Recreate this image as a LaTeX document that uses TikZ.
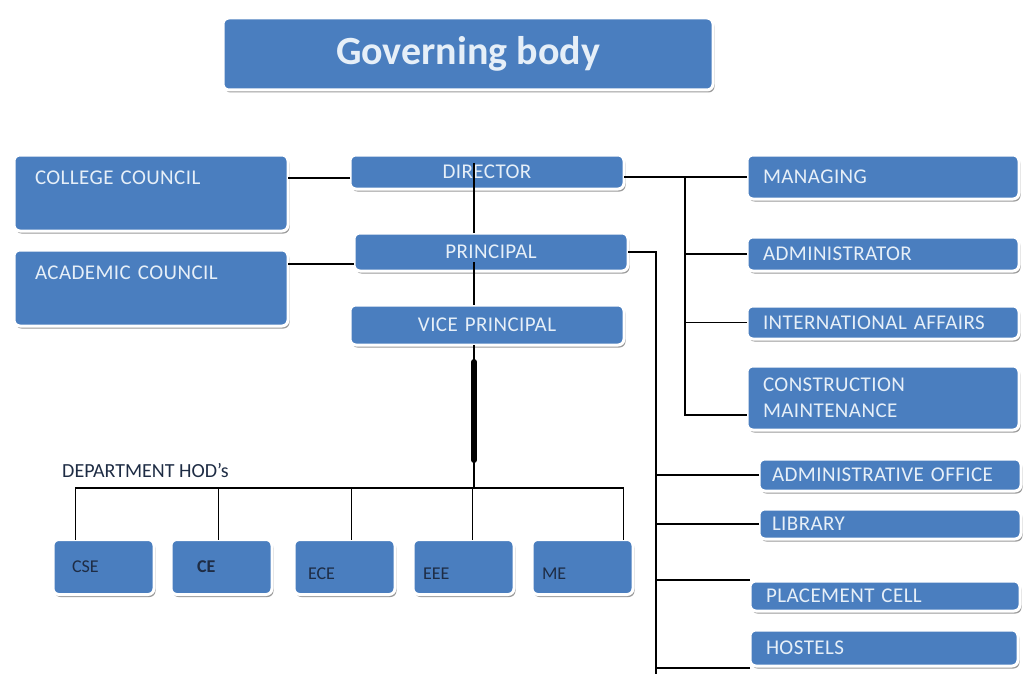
\documentclass[tikz,border=0pt]{standalone}
\usepackage{fontspec}
\setmainfont{Carlito}
\newfontfamily\unitfont[LetterSpace=2]{Carlito}
\usetikzlibrary{positioning,shadows}
\definecolor{boxblue}{HTML}{4A7EBF}
\definecolor{boxink}{HTML}{E6EFF8}
\definecolor{deptink}{HTML}{1E2C44}
\definecolor{rimshade}{HTML}{9A9A9A}

\tikzset{
  unit/.style={draw=white, line width=3pt, fill=boxblue, rounded corners=6pt,
    drop shadow={shadow xshift=1.5pt, shadow yshift=-2.5pt, fill=rimshade, opacity=1},
    text=boxink, font=\unitfont\fontsize{21}{26}\selectfont, anchor=north west,
    inner sep=0pt, outer sep=0pt},
  wide/.style={unit, align=left, inner xsep=16pt, text width=240pt, minimum height=#1},
  mid/.style={unit, align=center, text width=274pt, minimum height=#1},
  council/.style={unit, align=left, inner xsep=21pt, text width=232pt,
    text height=29pt, text depth=47pt},
  dept/.style={unit, text=deptink, font=\normalfont\fontsize{18}{22}\selectfont,
    align=left, inner xsep=14pt, text width=73pt, text height=33pt, text depth=22pt,
    anchor=west},
  low/.style={text height=40pt, text depth=15pt},
  link/.style={draw=black, line width=1.6pt},
  spine/.style={draw=black, line width=6pt, line cap=round}
}

\begin{document}
\begin{tikzpicture}[x=1pt, y=-1pt]
  \useasboundingbox (0,0) rectangle (1024,674);

  % top
  \node [unit, font=\normalfont\bfseries\fontsize{40}{44}\selectfont,
    minimum width=490pt, minimum height=72pt] (gov) at (223,18) {Governing body};

  % councils and line of command
  \node [council] (college) at (14,155) {COLLEGE COUNCIL};
  \node [council] (academic) at (14,250) {ACADEMIC COUNCIL};
  \node [mid=34pt] (director) at (350,155) {DIRECTOR};
  \node [mid=38pt] (principal) at (354,233) {PRINCIPAL};
  \node [mid=40pt] (vice) at (350,305) {VICE PRINCIPAL};

  % under the director
  \node [wide=44pt] (managing) at (747,155) {MANAGING};
  \node [wide=34pt] (administrator) at (747,237) {ADMINISTRATOR};
  \node [wide=33pt] (affairs) at (747,306) {INTERNATIONAL AFFAIRS};
  \node [wide=64pt] (construction) at (747,366) {CONSTRUCTION\\MAINTENANCE};

  % under the principal
  \node [wide=32pt, inner xsep=13pt, text width=236pt] (office) at (759,459) {ADMINISTRATIVE OFFICE};
  \node [wide=30pt, inner xsep=13pt, text width=236pt] (library) at (759,509) {LIBRARY};
  \node [wide=30pt, text width=238pt] (placement) at (750,581) {PLACEMENT CELL};
  \node [wide=36pt, text width=236pt] (hostels) at (750,630) {HOSTELS};

  % departments
  \node [anchor=west, inner sep=0pt, text=deptink, font=\fontsize{20}{24}\selectfont]
    (hods) at (62,471) {DEPARTMENT HOD's};
  \node [dept, inner xsep=19pt, text width=63pt] (cse) at (53,567) {CSE};
  \node [dept, inner xsep=26pt, text width=49pt, right=17pt of cse] (ce) {\bfseries CE};
  \node [dept, low, right=22pt of ce] (ece) {ECE};
  \node [dept, low, inner xsep=10pt, text width=81pt, right=18pt of ece] (eee) {EEE};
  \node [dept, low, inner xsep=10pt, text width=81pt, right=18pt of eee] (me) {ME};

  \coordinate (bus) at (474,488);
  \coordinate (mjoin) at (685,177);
  \coordinate (ptrunk) at (656,674);

  % connectors
  \draw [link] ([yshift=-6pt]director.west) -- ([yshift=-6pt]director.west -| college.east);
  \draw [link] ([yshift=-12pt]principal.west) -- ([yshift=-12pt]principal.west -| academic.east);
  \draw [link] (bus |- director.center) ++(0,-9) -- (bus |- principal.north);
  \draw [link] (bus |- principal.center) ++(0,10) -- (bus |- vice.north);
  \draw [link] (bus |- vice.south) -- (bus);
  \draw [spine] (bus |- vice.south) ++(0,17) -- ([yshift=28pt]bus);
  \draw [link] ([xshift=-28pt]cse.north) |- (bus) -| ([xshift=41pt]me.north);
  \foreach \d/\s in {ce/-3, ece/7, eee/9}
    \draw [link] ([xshift=\s pt]\d.north) -- ([xshift=\s pt]\d.north |- bus);

  \draw [link] (managing.west) -- (managing.west -| director.east);
  \draw [link] (mjoin) |- ([yshift=-17pt]construction.west);
  \draw [link] (administrator.west) -- (administrator.west -| mjoin);
  \draw [link] (affairs.west) -- (affairs.west -| mjoin);

  \draw [link] (principal.east) -| (ptrunk);
  \draw [link] (office.west) -- (office.west -| ptrunk);
  \draw [link] (library.west) -- (library.west -| ptrunk);
  \draw [link] ([yshift=16pt]placement.west) -- ([yshift=16pt]placement.west -| ptrunk);
  \draw [link] ([yshift=-20pt]hostels.west) -- ([yshift=-20pt]hostels.west -| ptrunk);
\end{tikzpicture}
\end{document}
